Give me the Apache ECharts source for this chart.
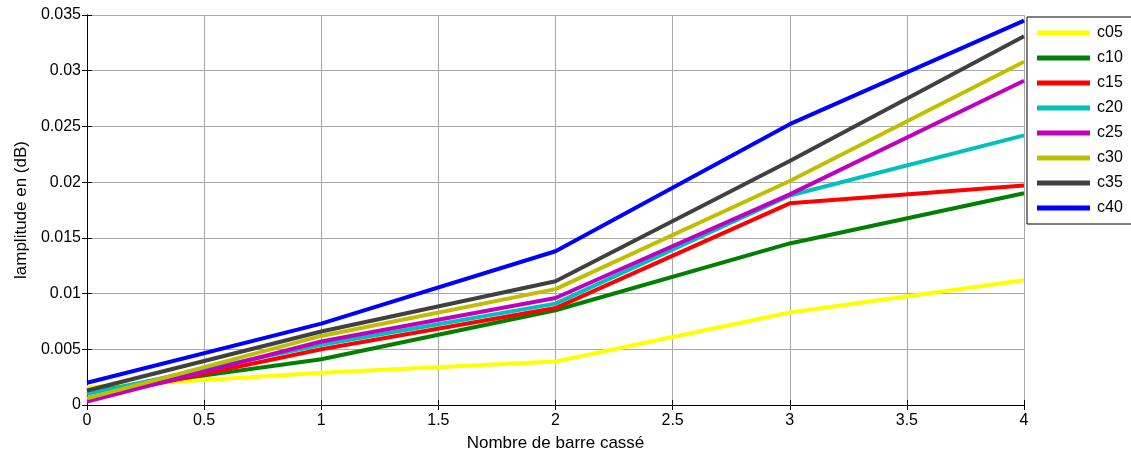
<!DOCTYPE html>
<html><head><meta charset="utf-8">
<script src="https://cdn.jsdelivr.net/npm/echarts@6/dist/echarts.min.js"></script>
<style>html,body{margin:0;padding:0;background:#fff}#c{width:1131px;height:452px}</style>
</head><body><div id="c"></div>
<script>
const xValues = [0, 1, 2, 3, 4];
const seriesNames = ['c05','c10','c15','c20','c25','c30','c35','c40'];
const c05 = [0.0016, 0.0029, 0.0039, 0.0083, 0.0112];
const c10 = [0.0012, 0.0041, 0.0085, 0.0145, 0.0190];
const c15 = [0.0006, 0.0050, 0.0087, 0.0181, 0.0197];
const c20 = [0.0010, 0.0054, 0.0091, 0.0188, 0.0242];
const c25 = [0.0003, 0.0057, 0.0096, 0.0189, 0.0291];
const c30 = [0.0006, 0.0062, 0.0104, 0.0201, 0.0308];
const c35 = [0.0013, 0.0066, 0.0111, 0.0219, 0.0331];
const c40 = [0.0020, 0.0073, 0.0138, 0.0252, 0.0345];
const seriesData = [c05, c10, c15, c20, c25, c30, c35, c40];
const colors = ['#ffff00','#008000','#ff0000','#00bfbf','#bf00bf','#bfbf00','#404040','#0000ff'];

const font = 'Liberation Sans, Arial, sans-serif';
const chart = echarts.init(document.getElementById('c'));
const axisLine = {show: true, lineStyle: {color: '#000', width: 1}};
const axisTick = {show: true, inside: true, length: 5, lineStyle: {color: '#000'}};
chart.setOption({
  animation: false,
  backgroundColor: '#fff',
  color: colors,
  grid: {left: 87, right: 107, top: 15, bottom: 47, containLabel: false, outerBoundsMode: 'none'},
  legend: {
    orient: 'vertical', left: 1027, top: 17,
    data: seriesNames,
    icon: 'rect', itemWidth: 53, itemHeight: 5, itemGap: 9,
    padding: [8, 12, 8, 10],
    backgroundColor: '#fff', borderColor: '#000', borderWidth: 1, borderRadius: 0,
    textStyle: {fontFamily: font, fontSize: 16, color: '#000', padding: [0, 0, 0, 2]}
  },
  xAxis: [{
    type: 'value', min: 0, max: 4, interval: 0.5,
    name: 'Nombre de barre cassé', nameLocation: 'middle', nameGap: 30,
    nameTextStyle: {fontFamily: font, fontSize: 17, color: '#000'},
    axisLine: axisLine, axisTick: axisTick,
    axisLabel: {fontFamily: font, fontSize: 16, color: '#000', margin: 8},
    splitLine: {show: true, lineStyle: {color: '#a8a8a8', width: 1}}
  }, {
    type: 'value', position: 'top', min: 0, max: 4, interval: 0.5,
    axisLine: axisLine, axisTick: axisTick, axisLabel: {show: false}, splitLine: {show: false}
  }],
  yAxis: [{
    type: 'value', min: 0, max: 0.035, interval: 0.005,
    name: 'lamplitude en (dB)', nameLocation: 'middle', nameGap: 56,
    nameTextStyle: {fontFamily: font, fontSize: 17, color: '#000'},
    axisLine: axisLine, axisTick: axisTick,
    axisLabel: {fontFamily: font, fontSize: 16, color: '#000', margin: 6},
    splitLine: {show: true, lineStyle: {color: '#a8a8a8', width: 1}}
  }, {
    type: 'value', position: 'right', min: 0, max: 0.035, interval: 0.005,
    axisLine: axisLine, axisTick: axisTick, axisLabel: {show: false}, splitLine: {show: false}
  }],
  series: seriesNames.map((n, i) => ({
    name: n, type: 'line', showSymbol: false, symbol: 'none',
    data: xValues.map((x, j) => [x, seriesData[i][j]]),
    lineStyle: {width: 4, color: colors[i]},
    itemStyle: {color: colors[i]}
  }))
});
</script></body></html>
